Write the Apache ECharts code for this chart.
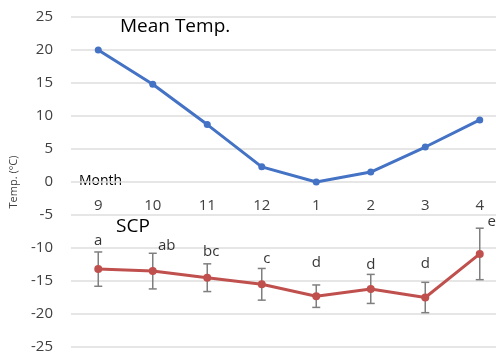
<!DOCTYPE html>
<html>
<head>
<meta charset="utf-8">
<script src="https://cdn.jsdelivr.net/npm/echarts@6/dist/echarts.min.js"></script>
<style>
  html, body { margin: 0; padding: 0; background: #fff; }
  #chart { width: 496px; height: 354px; }
</style>
</head>
<body>
<div id="chart"></div>
<script>
const months = ['9', '10', '11', '12', '1', '2', '3', '4'];
const meanTemp = [20, 14.8, 8.7, 2.3, 0, 1.5, 5.3, 9.4];
const scp = [-13.2, -13.5, -14.5, -15.5, -17.3, -16.2, -17.5, -10.9];
const scpErr = [2.6, 2.7, 2.1, 2.4, 1.7, 2.2, 2.3, 3.9];
const letters = ['a', 'ab', 'bc', 'c', 'd', 'd', 'd', 'e'];
// letter label y positions (data units)
const letterY = [-8.9, -9.6, -10.5, -11.7, -12.3, -12.6, -12.4, -6.0];
const letterDx = [0, 14, 4, 5, 0, 0, 0, 12];

const errData = scp.map((v, i) => [i, v - scpErr[i], v + scpErr[i]]);
const letterData = letters.map((t, i) => ({ value: [i, letterY[i]], name: t }));

const option = {
  animation: false,
  grid: { left: 71, right: -11, top: 17, bottom: 7, outerBoundsMode: 'none', containLabel: false },
  xAxis: {
    type: 'category',
    data: months,
    position: 'bottom',
    offset: -165,
    axisLine: { show: false, onZero: false },
    axisTick: { show: false },
    axisLabel: { color: '#404040', fontSize: 15, margin: 16, fontFamily: 'Open Sans' },
  },
  yAxis: {
    type: 'value',
    min: -25,
    max: 25,
    interval: 5,
    name: 'Temp. (°C)',
    nameLocation: 'middle',
    nameGap: 52,
    nameTextStyle: { color: '#404040', fontSize: 11, fontFamily: 'Open Sans' },
    axisLabel: { color: '#404040', fontSize: 15, margin: 18, fontFamily: 'Open Sans' },
    splitLine: { lineStyle: { color: '#dedede', width: 1.5 } },
  },
  graphic: [
    { type: 'text', left: 120, top: 17, style: { text: 'Mean Temp.', fill: '#000', font: '19px "Open Sans"' } },
    { type: 'text', left: 116, top: 217, style: { text: 'SCP', fill: '#000', font: '19px "Open Sans"' } },
    { type: 'text', left: 79, top: 174, style: { text: 'Month', fill: '#000', font: '14px "Open Sans"' } },
  ],
  series: [
    {
      name: 'Mean Temp.',
      type: 'line',
      data: meanTemp,
      symbol: 'circle',
      symbolSize: 7,
      lineStyle: { color: '#4472c4', width: 3 },
      itemStyle: { color: '#4472c4' },
    },
    {
      name: 'SCP err',
      type: 'custom',
      data: errData,
      renderItem: function (params, api) {
        const lo = api.coord([api.value(0), api.value(1)]);
        const hi = api.coord([api.value(0), api.value(2)]);
        const w = 4;
        const st = { stroke: '#7f7f7f', lineWidth: 1.5 };
        return {
          type: 'group',
          children: [
            { type: 'line', shape: { x1: lo[0], y1: lo[1], x2: hi[0], y2: hi[1] }, style: st },
            { type: 'line', shape: { x1: lo[0] - w, y1: lo[1], x2: lo[0] + w, y2: lo[1] }, style: st },
            { type: 'line', shape: { x1: hi[0] - w, y1: hi[1], x2: hi[0] + w, y2: hi[1] }, style: st },
          ],
        };
      },
      z: 1,
    },
    {
      name: 'SCP',
      type: 'line',
      data: scp,
      symbol: 'circle',
      symbolSize: 8,
      lineStyle: { color: '#c0504d', width: 3 },
      itemStyle: { color: '#c0504d' },
      z: 3,
    },
    {
      name: 'letters',
      type: 'scatter',
      data: letterData,
      symbolSize: 0,
      label: {
        show: true,
        position: 'inside',
        formatter: (p) => p.name,
        color: '#000',
        fontSize: 15,
        fontFamily: 'Open Sans',
      },
      labelLayout: (p) => ({ dx: letterDx[p.dataIndex] }),
    },
  ],
};

const myChart = echarts.init(document.getElementById('chart'));
myChart.setOption(option);
</script>
</body>
</html>
